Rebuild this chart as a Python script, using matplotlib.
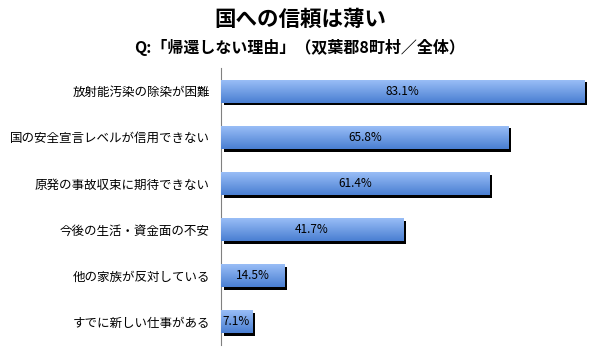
import numpy as np
import matplotlib.pyplot as plt
import matplotlib.patheffects as pe
from matplotlib.colors import LinearSegmentedColormap

plt.rcParams['font.family'] = ['Noto Sans CJK JP', 'DejaVu Sans']

reasons = ["放射能汚染の除染が困難", "国の安全宣言レベルが信用できない", "原発の事故収束に期待できない",
           "今後の生活・資金面の不安", "他の家族が反対している", "すでに新しい仕事がある"]
values = [83.1, 65.8, 61.4, 41.7, 14.5, 7.1]

fig = plt.figure(figsize=(6, 3.63), dpi=100)
fig.text(0.5, 1 - 19 / 363, "国への信頼は薄い", ha='center', va='center', fontsize=15.5, fontweight='bold')
fig.text(0.5, 1 - 47 / 363, "Q:「帰還しない理由」（双葉郡8町村／全体）", ha='center', va='center',
         fontsize=11.5, fontweight='bold')

ax = fig.add_axes([221 / 600, 18 / 363, 374 / 600, 277 / 363])
y = np.arange(len(values))

# gradient fill, light on top, darker at the bottom
cmap = LinearSegmentedColormap.from_list("bar", ["#9cc0f8", "#4a7fd2"])
grad = np.linspace(0, 1, 64).reshape(-1, 1)

bars = ax.barh(y, values, height=0.5, color='#7aa5e8', zorder=2,
               path_effects=[pe.SimplePatchShadow(offset=(2, -2), shadow_rgbFace='black', alpha=1), pe.Normal()])
for b, v in zip(bars, values):
    x0, y0 = b.get_x(), b.get_y()
    im = ax.imshow(grad, cmap=cmap, aspect='auto', zorder=3,
                   extent=[x0, x0 + b.get_width(), y0 + b.get_height(), y0])
    im.set_clip_path(b)
    ax.text(v / 2, b.get_y() + b.get_height() / 2, f"{v}%", ha='center', va='center',
            fontsize=8.5, zorder=4)

ax.set_yticks(y)
ax.set_yticklabels(reasons, fontsize=9)
ax.tick_params(axis='y', length=0, pad=8)
ax.set_xticks([])
for s in ['top', 'right', 'bottom']:
    ax.spines[s].set_visible(False)
ax.spines['left'].set_color('#808080')
ax.set_xlim(0, 374 / 4.37)
ax.set_ylim(len(values) - 0.5, -0.5)

fig.savefig("out.png", dpi=100)
